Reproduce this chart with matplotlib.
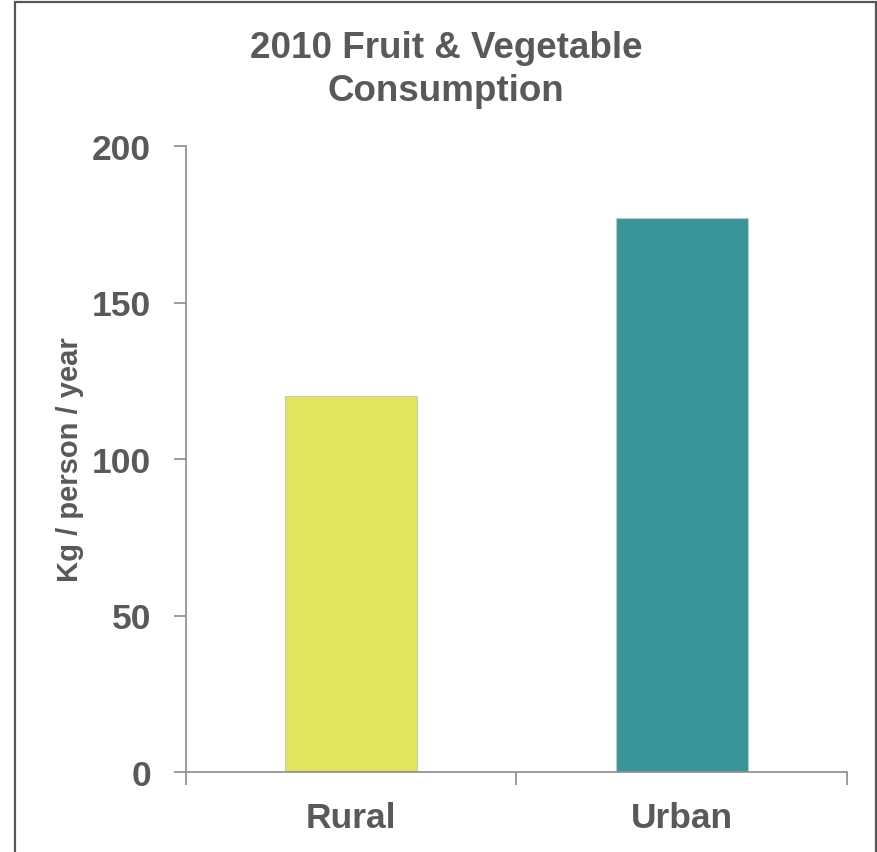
import matplotlib.pyplot as plt
from matplotlib.patches import Rectangle

# Data
categories = ["Rural", "Urban"]
consumption = [120, 177]
bar_colors = ["#E1E55B", "#38959A"]
y_ticks = [0, 50, 100, 150, 200]

W, H = 878, 853
plt.rcParams["font.family"] = ["Liberation Sans", "DejaVu Sans"]
text_color = "#595959"
axis_color = "#8C8C8C"

fig = plt.figure(figsize=(W / 100, H / 100), dpi=100)
fig.patch.set_facecolor("white")

ax = fig.add_axes([186 / W, (H - 773) / H, (847 - 186) / W, (773 - 147) / H])
x = list(range(len(categories)))
ax.bar(x, consumption, width=0.4, color=bar_colors, edgecolor="#C8C8C8", linewidth=0.8, zorder=2)

ax.set_xlim(-0.5, len(categories) - 0.5)
ax.set_ylim(0, 200)
ax.set_yticks(y_ticks)
ax.set_yticklabels([str(v) for v in y_ticks])

# category boundaries carry the tick marks, labels sit at bar centres
ax.set_xticks([i - 0.5 for i in range(len(categories) + 1)])
ax.set_xticklabels([])
ax.set_xticks(x, minor=True)
ax.set_xticklabels(categories, minor=True)
ax.tick_params(axis="x", which="minor", length=0, pad=21, labelsize=25.5, labelcolor=text_color)
ax.tick_params(axis="x", which="major", length=9, width=1.2, color=axis_color, direction="out")
ax.tick_params(axis="y", length=9, width=1.2, color=axis_color, direction="out", pad=16,
               labelsize=25.5, labelcolor=text_color)
for lab in ax.get_xticklabels(minor=True) + ax.get_yticklabels():
    lab.set_fontweight("bold")

for side in ("top", "right"):
    ax.spines[side].set_visible(False)
for side in ("left", "bottom"):
    ax.spines[side].set_color(axis_color)
    ax.spines[side].set_linewidth(1.2)

fig.text(70 / W, 1 - 460 / H, "Kg / person / year", rotation=90, ha="center", va="center",
         fontsize=21, fontweight="bold", color=text_color)

fig.text(446 / W, 1 - 58 / H, "2010 Fruit & Vegetable", ha="center", va="baseline",
         fontsize=26.5, fontweight="bold", color=text_color)
fig.text(446 / W, 1 - 101 / H, "Consumption", ha="center", va="baseline",
         fontsize=26.5, fontweight="bold", color=text_color)

# outer frame
fig.patches.append(Rectangle((15 / W, -0.05), (876 - 15) / W, 1.05 - 3 / H,
                             transform=fig.transFigure, fill=False,
                             edgecolor="#555555", linewidth=1.6, clip_on=False))

fig.savefig("out.png", dpi=100)
